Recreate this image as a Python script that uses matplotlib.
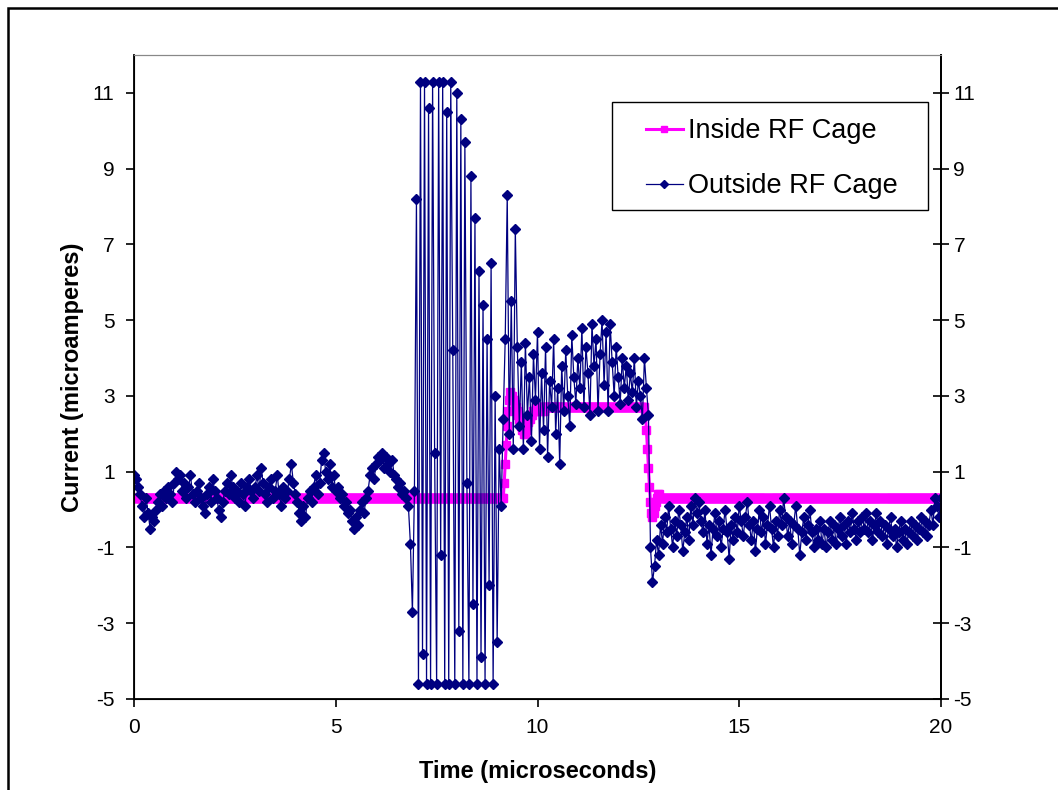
import numpy as np
import matplotlib
matplotlib.use("Agg")
import matplotlib.pyplot as plt
from matplotlib.patches import Rectangle

plt.rcParams['font.family'] = ['Liberation Sans', 'DejaVu Sans']
plt.rcParams['axes.unicode_minus'] = False

# Outside RF Cage: samples every 0.05 us, 0..20 us
outside_a = [0.9, 0.8, 0.6, 0.4, 0.1, -0.2, 0.3, -0.1, -0.5, -0.2, -0.3, 0.0, 0.2, 0.4, 0.1, 0.5, 0.3, 0.6, 0.4, 0.2, 0.7,
             1.0, 0.8, 0.9, 0.5, 0.7, 0.3, 0.6, 0.9, 0.4, 0.2, 0.5, 0.7, 0.3, 0.1, -0.1, 0.4, 0.6, 0.2, 0.8, 0.5,
             0.3, 0.0, -0.2, 0.2, 0.5, 0.7, 0.4, 0.9, 0.6, 0.3, 0.5, 0.2, 0.7, 0.4, 0.1, 0.6, 0.8, 0.5, 0.3, 0.6,
             0.9, 0.5, 1.1, 0.7, 0.4, 0.2, 0.6, 0.8, 0.3, 0.5, 0.9, 0.4, 0.1, 0.6, 0.3, 0.5, 0.8, 1.2, 0.7, 0.4,
             0.2, -0.1, -0.3, 0.1, -0.2, 0.3, 0.5, 0.2, 0.6, 0.9, 0.4, 0.7, 1.3, 1.5, 1.0, 0.8, 1.2, 0.6, 0.9, 0.5,
             0.6, 0.3, 0.4, 0.1, 0.2, -0.1, 0.0, -0.3, -0.5, -0.2, -0.4, 0.0, 0.2, -0.1, 0.3, 0.5, 0.9, 1.1, 0.8, 1.2,
             1.4, 1.3, 1.5, 1.1, 1.4, 1.2, 1.0, 1.3, 0.9, 0.8, 0.6, 0.7, 0.4, 0.5, 0.3, 0.1, -0.9, -2.7, 0.5, 8.2]
outside_b = [-4.6, 11.3, -3.8, 11.3, -4.6, 10.6, -4.6, 11.3, 1.5, -4.6, 11.3, -1.2, 11.3, -4.6, 10.5, -4.6,
             11.3, 4.2, -4.6, 11.0, -3.2, 10.3, -4.6, 9.7, 0.7, -4.6, 8.8, -2.5, 7.7, -4.6, 6.3, -3.9,
             5.4, -4.6, 4.5, -2.0, 6.5, -4.6, 3.0, -3.5, 1.6, 0.1, 2.4, 4.5]
outside_c = [8.3, 2.0, 5.5, 1.6, 7.4, 4.3, 2.2, 3.9, 1.6, 4.4, 2.5, 3.5, 1.8, 4.1, 2.9, 4.7, 1.6, 3.6, 2.1, 4.3,
             1.4, 3.4, 2.7, 4.5, 2.0, 3.2, 1.2, 3.8, 2.6, 4.2, 3.0, 2.2, 4.6, 3.5, 2.8, 4.0, 3.2, 4.8, 2.7, 4.3,
             3.6, 2.5, 4.9, 3.8, 4.5, 2.6, 4.1, 5.0, 3.3, 4.7, 2.6, 4.9, 3.9, 3.0, 4.3, 3.5, 2.8, 4.0, 3.2, 3.8,
             2.9, 3.6, 3.1, 4.0, 2.7, 3.4, 3.0, 2.4, 4.0, 3.2]
outside_d = [2.5, -1.0, -1.9, -1.5, -0.8, -1.2, -0.4, -0.9, -0.2, -0.6, 0.1, -0.5, -1.0, -0.3, -0.7, 0.0,
             -0.4, -1.1, -0.6, -0.2, -0.8, 0.1, -0.4, 0.3, -0.1, 0.2, -0.3, -0.6, 0.0, -0.9, -0.4, -1.2,
             -0.5, -0.1, -0.7, -0.3, -1.0, -0.5, 0.0, -0.6, -1.3, -0.4, -0.8, -0.2, -0.6, 0.1, -0.3, -0.7,
             -0.2, 0.2, -0.4, -0.8, -0.3, -1.1, -0.5, 0.0, -0.6, -0.2, -0.9, -0.4, 0.1, -0.5, -1.0, -0.3,
             -0.7, 0.0, -0.4, 0.3, -0.2, -0.7, -0.3, -0.9, -0.4, 0.1, -0.5, -1.2, -0.6, -0.2, -0.8, -0.4,
             0.0, -0.6, -1.0, -0.5, -0.8, -0.3, -0.9, -0.5, -1.0, -0.6, -0.3, -0.8, -0.4, -0.9, -0.5, -0.2,
             -0.7, -0.4, -0.9, -0.3, -0.6, -0.1, -0.5, -0.8, -0.3, -0.6, -0.2, -0.5, -0.1, -0.6, -0.3, -0.8,
             -0.4, -0.1, -0.6, -0.3, -0.7, -0.4, -0.9, -0.5, -0.2, -0.7, -0.5, -1.0, -0.6, -0.3, -0.8, -0.5,
             -0.9, -0.6, -0.3, -0.7, -0.4, -0.8, -0.5, -0.2, -0.6, -0.3, -0.7, -0.4, 0.0, -0.4, 0.3, 0.1,
             -0.2, 0.3]
outside = outside_a + outside_b + outside_c + outside_d
outside_time = np.linspace(0, 20, len(outside))

# Inside RF Cage: samples every 0.025 us
inside_flat_a = [0.3] * 367
inside_rise = [0.7, 1.2, 1.7, 2.2, 2.6, 2.9, 3.1]
inside_dip = [3.0, 3.0, 2.9, 2.9, 2.8, 2.7, 2.6, 2.5, 2.4, 2.3, 2.2, 2.1, 2.1, 2.0, 2.0, 2.1, 2.2, 2.3, 2.4, 2.4,
              2.5, 2.5, 2.6, 2.6, 2.6, 2.7, 2.7, 2.7, 2.7, 2.6, 2.7, 2.7, 2.6, 2.7, 2.7, 2.7, 2.7, 2.7, 2.7]
inside_plateau = [2.7] * 94
inside_drop = [2.5, 2.1, 1.6, 1.1, 0.6, 0.2, -0.1, -0.2, -0.1, 0.1]
inside_recover = [0.2, 0.3, 0.4, 0.4, 0.3]
inside_tail = [0.3] * 279
inside = inside_flat_a + inside_rise + inside_dip + inside_plateau + inside_drop + inside_recover + inside_tail
inside_time = np.arange(len(inside)) * 0.025

y_ticks = [-5, -3, -1, 1, 3, 5, 7, 9, 11]
x_ticks = [0, 5, 10, 15, 20]

fig = plt.figure(figsize=(10.58, 7.9), dpi=100)
ax = fig.add_axes([134 / 1058, 1 - 699 / 790, 807 / 1058, 644 / 790])

ax.plot(inside_time, inside, color='#FF00FF', lw=2.2, marker='s', ms=5.5, mec='#FF00FF',
        label='Inside RF Cage', zorder=2)
ax.plot(outside_time, outside, color='#000080', lw=0.9, marker='D', ms=5.5, mec='#000080',
        label='Outside RF Cage', zorder=3)

ax.set_xlim(0, 20)
ax.set_ylim(-5, 12)
ax.set_xticks(x_ticks)
ax.set_yticks(y_ticks)
ax.tick_params(axis='y', direction='out', length=6, width=1.2, labelsize=15, pad=8)
ax.tick_params(axis='x', direction='out', length=6, width=1.2, labelsize=15, pad=8)
ax.spines['top'].set_color('#888888')
for s in ['left', 'bottom', 'right']:
    ax.spines[s].set_linewidth(1.3)

ax2 = ax.twinx()
ax2.set_ylim(-5, 12)
ax2.set_yticks(y_ticks)
ax2.tick_params(axis='y', direction='inout', length=12, width=1.2, labelsize=15, pad=3)
ax2.spines['top'].set_color('#888888')
ax2.spines['right'].set_linewidth(1.3)

ax.set_xlabel('Time (microseconds)', fontsize=17, fontweight='bold')
ax.set_ylabel('Current (microamperes)', fontsize=17, fontweight='bold')
ax.xaxis.set_label_coords(0.5, -0.095)
ax.yaxis.set_label_coords(-0.062, 0.5)

# legend entries without frame, box drawn separately (wide padding as in the original)
handles, labels = ax.get_legend_handles_labels()
leg = fig.legend(handles, labels, loc='upper left',
                 bbox_to_anchor=(646 / 1058, 1 - 118 / 790),
                 borderaxespad=0, borderpad=0, fontsize=19.5, frameon=False, handlelength=1.35,
                 handletextpad=0.2, labelspacing=1.08, markerscale=0.8)
leg.set_zorder(10)
fig.add_artist(Rectangle((612 / 1058, 1 - 210 / 790), 316 / 1058, 108 / 790, transform=fig.transFigure,
                         facecolor='white', edgecolor='black', lw=1.0, zorder=5))

fig.add_artist(Rectangle((8 / 1058, -0.2), 1.2, 1.2 - 8 / 790, transform=fig.transFigure,
                         fill=False, edgecolor='black', lw=1.8))

fig.savefig('out.png', dpi=100)
